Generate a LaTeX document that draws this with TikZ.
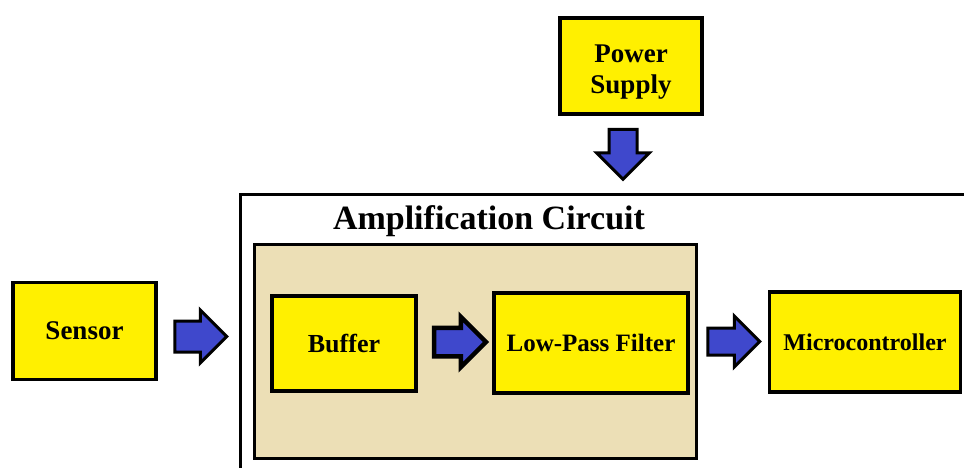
\documentclass[tikz,border=0pt]{standalone}
\usepackage{fontspec}
\setmainfont{Liberation Serif}
\usetikzlibrary{shapes.arrows,positioning,calc}

\definecolor{boxyellow}{RGB}{255,240,0}
\definecolor{amptan}{RGB}{236,223,182}
\definecolor{arrowblue}{RGB}{63,72,204}

\begin{document}
\begin{tikzpicture}[x=1pt,y=-1pt,
  blockbox/.style={draw=black, line width=3.5pt, fill=boxyellow, align=center, inner sep=0pt,
    font=\bfseries\fontsize{26}{32}\selectfont},
  blockarrow/.style={single arrow, draw=black, line width=3pt, fill=arrowblue, anchor=tail,
    inner xsep=0pt, inner ysep=14pt, single arrow head extend=11pt, minimum height=52pt}]

\useasboundingbox (0,0) rectangle (964,467);
\clip (0,0) rectangle (964,467);

% Marco del circuito
\draw[line width=3pt] (240,480) -- (240,194) -- (980,194);
\coordinate (frameleft) at (240,336);

% Bloque de amplificación
\node[draw=black, line width=3pt, fill=amptan, minimum width=442pt, minimum height=214pt] (amp) at (475.5,351.5) {};
\node[font=\bfseries\fontsize{34}{36}\selectfont] (title) at (489,221) {Amplification Circuit};

% Bloques
\node[blockbox, minimum width=143pt, minimum height=97pt, font=\bfseries\fontsize{27}{32}\selectfont] (sensor) at (84.5,331) {Sensor};
\node[blockbox, minimum width=142pt, minimum height=96pt, font=\bfseries\fontsize{27}{31}\selectfont] (power) at (631,66) {\rule{0pt}{30pt}Power\\Supply};
\node[blockbox, minimum width=144pt, minimum height=95pt] (buffer) at (344,343.5) {Buffer};
\node[blockbox, minimum width=194pt, minimum height=100pt, font=\bfseries\fontsize{25}{30}\selectfont] (lpf) at (591,343) {Low-Pass Filter};
\node[blockbox, minimum width=191pt, minimum height=100pt, font=\bfseries\fontsize{24}{30}\selectfont] (micro) at (865,342) {Microcontroller};

% Flechas
\node[blockarrow] (a1) at ($(sensor.east)+(15.5,5.5)$) {};
\node[blockarrow, line width=4.5pt, inner ysep=12pt] (a2) at ($(buffer.east)+(14,-1.5)$) {};
\node[blockarrow, inner ysep=12pt, single arrow head extend=12pt] (a3) at ($(lpf.east)+(16.5,-1.5)$) {};
\node[blockarrow, rotate=-90, inner ysep=12.5pt, single arrow head extend=12.5pt, minimum height=50pt] (a4) at ($(power.south)+(-8,12)$) {};

\end{tikzpicture}
\end{document}
